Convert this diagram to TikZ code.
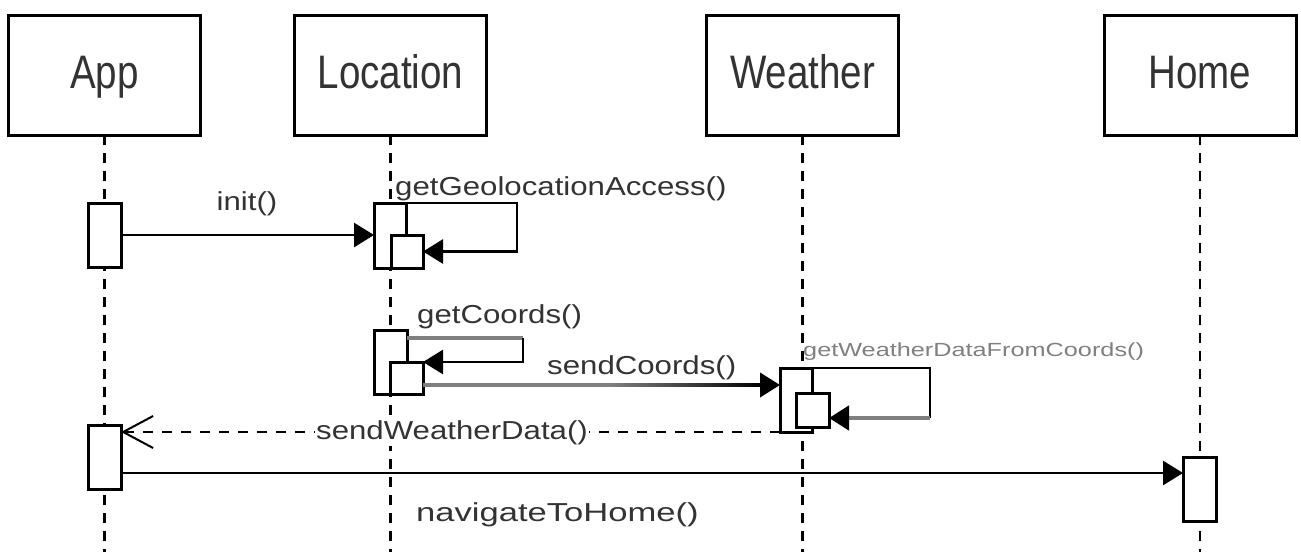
\documentclass[tikz,border=0pt]{standalone}
\usepackage{fontspec}
\usepackage{graphicx}
\setmainfont{Liberation Sans}
\usetikzlibrary{arrows.meta,calc}
\definecolor{lg}{HTML}{7F7F7F}
\newcommand{\hdtxt}[1]{\fontsize{47}{47}\selectfont\scalebox{0.82}[1]{#1}}
\newcommand{\lbtxt}[1]{\fontsize{26}{26}\selectfont\scalebox{1.2}[1]{#1}}
\newcommand{\nhtxt}[1]{\fontsize{26}{26}\selectfont\scalebox{1.33}[1]{#1}}
\newcommand{\smtxt}[1]{\fontsize{19}{19}\selectfont\scalebox{1.33}[1]{#1}}
\begin{document}
\begin{tikzpicture}[x=1pt,y=-1pt,
  head/.style={draw,line width=3pt,minimum width=192pt,minimum height=120pt,inner sep=0pt,outer sep=0pt,fill=white,text=black!80,text height=35pt,text depth=9pt},
  life/.style={line width=2.5pt,dash pattern=on 10pt off 8pt},
  act/.style={draw,line width=3pt,fill=white,inner sep=0pt,outer sep=0pt},
  msg/.style={line width=2.8pt,-{Triangle[length=20pt,width=24pt,color=black]}},
  selfline/.style={line width=2.8pt},
  grayline/.style={line width=4.5pt,draw=lg},
  ret/.style={line width=2pt,dash pattern=on 10pt off 9pt,-{Straight Barb[length=30pt,width=32pt,line width=2pt]}},
  lbl/.style={inner sep=0pt,text=black!80},
  slbl/.style={inner sep=0pt,text=black!50}
]
\useasboundingbox (0,0) rectangle (1301,552);
\fill[white] (0,0) rectangle (1301,552);

% headers
\node[head] (hApp) at (104.5,75) {\hdtxt{App}};
\node[head] (hLoc) at (390.5,75) {\hdtxt{Location}};
\node[head] (hWea) at (802.5,75) {\hdtxt{Weather}};
\node[head] (hHom) at (1200,75) {\hdtxt{Home}};

% lifeline ends
\coordinate (eApp) at (104.5,552);
\coordinate (eLoc) at (390.5,552);
\coordinate (eWea) at (802.5,552);
\coordinate (eHom) at (1200,552);

\draw[life] (hApp.south) -- (eApp);
\draw[life] (hLoc.south) -- (eLoc);
\draw[life] (hWea.south) -- (eWea);
\draw[life] (hHom.south) -- (eHom);

% activations
\node[act,minimum width=33pt,minimum height=64pt] (A1) at (104.5,235) {};
\node[act,minimum width=32pt,minimum height=65pt] (L1o) at (390,235.5) {};
\node[act,minimum width=32pt,minimum height=33pt] (L1i) at (407,251.5) {};
\node[act,minimum width=33pt,minimum height=64pt] (L2o) at (390.5,362) {};
\node[act,minimum width=33pt,minimum height=32pt] (L2i) at (406.5,378) {};
\node[act,minimum width=32pt,minimum height=64pt] (Wo) at (796,400) {};
\node[act,minimum width=33pt,minimum height=34pt] (Wi) at (812.5,410) {};
\node[act,minimum width=33pt,minimum height=64pt] (A2) at (104.5,457) {};
\node[act,minimum width=33pt,minimum height=64pt] (H1) at (1199.5,489) {};

% init()
\draw[msg] (A1.east) -- (A1.east -| L1o.west);
\node[lbl,anchor=base] (tinit) at (247,210) {\lbtxt{init()}};

% getGeolocationAccess() self call
\draw[selfline,-{Triangle[length=20pt,width=24pt]}] (L1o.north east) -- ++(111,0) |- (L1i.east);
\node[lbl,anchor=base west] (tgeo) at (395,195) {\lbtxt{getGeolocationAccess()}};

% getCoords() self call
\coordinate (gc0) at ($(L2o.north east)+(0,8)$);
\coordinate (gc1) at ($(gc0)+(116,0)$);
\draw[grayline] (gc0) -- (gc1);
\draw[selfline,-{Triangle[length=20pt,width=24pt]}] (gc1) |- (L2i.north east);
\node[lbl,anchor=base west] (tgc) at (417,323) {\lbtxt{getCoords()}};

% sendCoords()
\coordinate (sc0) at ($(L2i.east)+(0,7)$);
\coordinate (sc1) at (sc0 -| Wo.west);
\draw[grayline,line width=4pt,-{Triangle[length=20pt,width=24pt,color=black]}] (sc0) -- (sc1);
\shade[left color=lg,right color=black] ($(sc1)+(-170,-2)$) rectangle ($(sc1)+(-18,1.5)$);
\node[lbl,anchor=base west] (tsc) at (547,374) {\lbtxt{sendCoords()}};

% getWeatherDataFromCoords() self call
\coordinate (wl0) at ($(Wo.north east)+(118,0)$);
\coordinate (wl1) at ($(wl0)+(0,50)$);
\draw[selfline] (Wo.north east) -- (wl0) -- (wl1);
\draw[grayline,-{Triangle[length=20pt,width=24pt,color=black]}] (wl1) -- (wl1 -| Wi.east);
\node[slbl,anchor=base west] (tgw) at (803,356) {\smtxt{getWeatherDataFromCoords()}};

% sendWeatherData() return
\draw[ret] (Wo.south west) -- (Wo.south west -| A2.east);
\node[lbl,fill=white,inner sep=1pt] (tsw) at (452,433) {\lbtxt{sendWeatherData()}};

% navigateToHome()
\coordinate (nh0) at ($(A2.east)+(0,16)$);
\draw[msg] (nh0) -- (nh0 -| H1.west);
\node[lbl,anchor=base west] (tnh) at (416,521) {\nhtxt{navigateToHome()}};
\end{tikzpicture}
\end{document}
